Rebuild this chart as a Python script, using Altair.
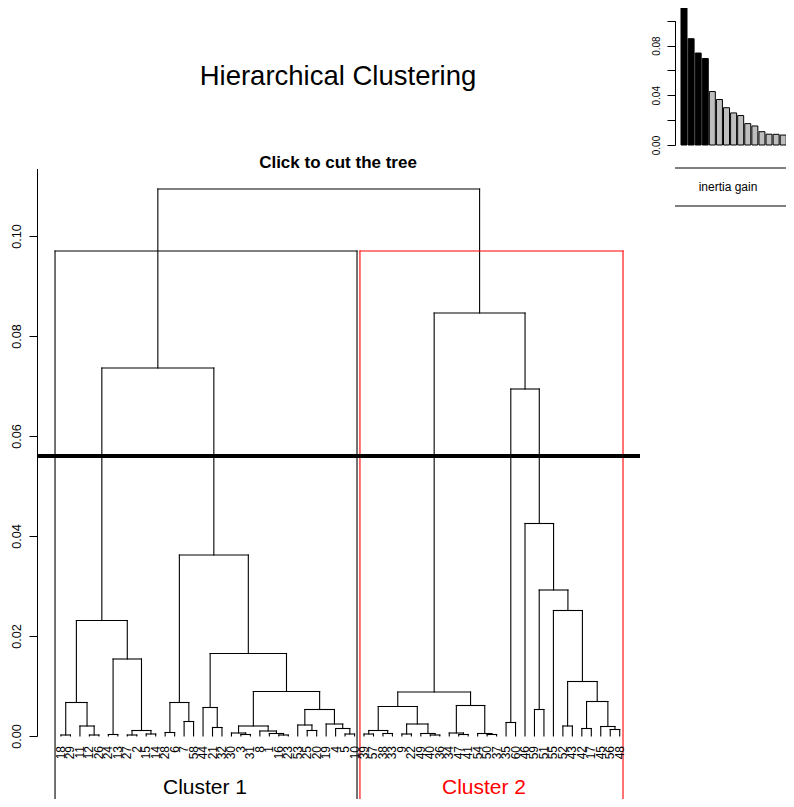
import altair as alt
import pandas as pd

# ---------------- data ----------------
leaf_labels = ["18", "29", "11", "12", "26", "24", "13", "27", "2", "15", "14",
               "28", "6", "7", "58", "44", "21", "32", "30", "3", "31", "8", "1",
               "16", "23", "53", "25", "20", "19", "4", "5", "10",
               "39", "57", "38", "33", "9", "22", "49", "40", "36", "34", "47",
               "41", "54", "50", "37", "35", "60", "46", "59", "51", "55", "52",
               "43", "42", "17", "45", "56", "48"]

# hclust-style merges: negative = leaf position (1..60), positive = earlier merge
merge_left = [-1, -4, -3, 1, -6, -8, -10, 6, 5, 4,
              -12, -14, 11, -17, -16, -20, -19, -24, -23, -22,
              17, -27, -26, -31, -30, -29, 23, 21, 15, 13, 10,
              -33, -35, 32, -37, -40, -39, 35, 34, -43,
              -42, -46, -45, 41, 39, -48, -51, -54, -56, -59,
              -58, 49, 48, -53, 47, -50, 46, 45, 31]
merge_right = [-2, -5, 2, 3, -7, -9, -11, 7, 8, 9,
               -13, -15, 12, -18, 14, -21, 16, -25, 18, 19,
               20, -28, 22, -32, 24, 25, 26, 27, 28, 29, 30,
               -34, -36, 33, -38, -41, 36, 37, 38, -44,
               40, -47, 42, 43, 44, -49, -52, -55, -57, -60,
               50, 51, 52, 53, 54, 55, 56, 57, 58]
merge_height = [0.0002, 0.0002, 0.0020, 0.0067, 0.0003, 0.0002, 0.0004, 0.0011, 0.0154, 0.0231,
                0.0007, 0.0029, 0.0067, 0.0017, 0.0057, 0.0003, 0.0006, 0.0002, 0.0005, 0.0010,
                0.0020, 0.0011, 0.0022, 0.0004, 0.0015, 0.0024, 0.0053, 0.0089, 0.0165, 0.0362, 0.0736,
                0.0004, 0.0005, 0.0011, 0.0004, 0.0002, 0.0005, 0.0024, 0.0059, 0.0003,
                0.0006, 0.0003, 0.0005, 0.0061, 0.0088, 0.0027, 0.0053, 0.0020, 0.0015, 0.0013,
                0.0019, 0.0069, 0.0109, 0.0251, 0.0292, 0.0425, 0.0694, 0.0846, 0.1094]

y_ticks = [0.0, 0.02, 0.04, 0.06, 0.08, 0.10]
cut_height = [0.056]

cluster_names = ["Cluster 1", "Cluster 2"]
cluster_left = [0.37, 32.57]
cluster_right = [32.26, 60.35]
cluster_top = 0.097
cluster_bottom = -0.016
cluster_colors = ["#000000", "#ff0000"]

gain_values = [0.1104, 0.0855, 0.0740, 0.0696, 0.0430, 0.0366, 0.0300, 0.0258,
               0.0237, 0.0172, 0.0153, 0.0107, 0.0087, 0.0086, 0.0080]
gain_selected = 4  # first bars drawn in black

FONT = "Liberation Sans"

# ---------------- dendrogram segments ----------------
pos, hgt = {}, {}


def node(ref):
    if ref < 0:
        return float(-ref), 0.0
    return pos[ref], hgt[ref]


segs = []
for k, (l, r, h) in enumerate(zip(merge_left, merge_right, merge_height), start=1):
    xl, hl = node(l)
    xr, hr = node(r)
    segs.append(dict(x=xl, x2=xl, y=hl, y2=h))
    segs.append(dict(x=xr, x2=xr, y=hr, y2=h))
    segs.append(dict(x=xl, x2=xr, y=h, y2=h))
    pos[k] = (xl + xr) / 2
    hgt[k] = h
seg_df = pd.DataFrame(segs)

rect_rows = []
for name, a, b, c in zip(cluster_names, cluster_left, cluster_right, cluster_colors):
    rect_rows.append(dict(x=a, x2=a, y=cluster_bottom, y2=cluster_top, col=c))
    rect_rows.append(dict(x=b, x2=b, y=cluster_bottom, y2=cluster_top, col=c))
    rect_rows.append(dict(x=a, x2=b, y=cluster_top, y2=cluster_top, col=c))
rect_df = pd.DataFrame(rect_rows)

leaf_df = pd.DataFrame({"pos": list(range(1, len(leaf_labels) + 1)), "label": leaf_labels})

gain_df = pd.DataFrame({
    "idx": list(range(1, len(gain_values) + 1)),
    "gain": gain_values,
    "fill": ["#000000" if i < gain_selected else "#bebebe" for i in range(len(gain_values))],
})

# ---------------- scales ----------------
X_MAIN = alt.Scale(domain=[1, 60], range=[24, 582.7], nice=False, zero=False)
Y_MAIN = alt.Scale(domain=[0, 0.1135], range=[728, 160.5], nice=False, zero=False)
Y_AXIS = alt.Axis(values=y_ticks, format=".2f", labelAngle=270, labelAlign="center",
                  labelBaseline="bottom", tickSize=8, labelPadding=6, labelFontSize=12.7,
                  labelFont=FONT, labelColor="black", tickColor="black", domainColor="black",
                  title=None, grid=False)

xm = lambda f: alt.X(f, type="quantitative", scale=X_MAIN, axis=None)
ym = lambda f: alt.Y(f, type="quantitative", scale=Y_MAIN, axis=Y_AXIS)

dendro = alt.Chart(seg_df).mark_rule(color="black", strokeWidth=1.1, strokeCap="square").encode(
    x=xm("x"), x2="x2", y=ym("y"), y2="y2")

rects = alt.Chart(rect_df).mark_rule(strokeWidth=1.1, strokeCap="square").encode(
    x=xm("x"), x2="x2", y=ym("y"), y2="y2", color=alt.Color("col:N", scale=None))

cut = alt.Chart(pd.DataFrame({"cut": cut_height})).mark_rule(color="black", strokeWidth=4).encode(
    y=ym("cut"), x=alt.value(0), x2=alt.value(603))

labels = alt.Chart(leaf_df).mark_text(angle=270, align="right", baseline="middle",
                                      font=FONT, fontSize=12, color="black").encode(
    x=xm("pos"), y=alt.value(738), text="label:N")

main = alt.layer(dendro, rects, cut, labels)

# ---------------- inset: inertia gain ----------------
X_IN = alt.Scale(domain=[1, 15], range=[642, 751.2], nice=False, zero=False)
Y_IN = alt.Scale(domain=[0, 0.10], range=[137, 12.7], nice=False, zero=True)
bars = alt.Chart(gain_df).mark_bar(size=6, stroke="black", strokeWidth=1).encode(
    x=alt.X("idx:Q", scale=X_IN, axis=None),
    y=alt.Y("gain:Q", scale=Y_IN,
            axis=alt.Axis(orient="left", offset=-638, values=y_ticks,
                          labelExpr="round(datum.value*100) % 4 == 0 ? format(datum.value, '.2f') : ''",
                          labelAngle=270, labelAlign="center", labelBaseline="bottom",
                          tickSize=8, labelPadding=6, labelFontSize=10, labelFont=FONT,
                          labelColor="black", tickColor="black", domainColor="black",
                          title=None, grid=False)),
    fill=alt.Fill("fill:N", scale=None))

one = pd.DataFrame({"t": ["inertia gain"]})
inset_line1 = alt.Chart(one).mark_rule(color="black", strokeWidth=1).encode(
    y=alt.value(160), x=alt.value(638), x2=alt.value(757))
inset_line2 = alt.Chart(one).mark_rule(color="black", strokeWidth=1).encode(
    y=alt.value(198), x=alt.value(638), x2=alt.value(757))
inset_text = alt.Chart(one).mark_text(font=FONT, fontSize=12, color="black").encode(
    x=alt.value(691), y=alt.value(179), text="t:N")

inset = alt.layer(bars, inset_line1, inset_line2, inset_text)

# ---------------- titles ----------------
title = alt.Chart(pd.DataFrame({"t": ["Hierarchical Clustering"]})).mark_text(
    font=FONT, fontSize=27.5, color="black").encode(x=alt.value(301), y=alt.value(69), text="t:N")
subtitle = alt.Chart(pd.DataFrame({"t": ["Click to cut the tree"]})).mark_text(
    font=FONT, fontSize=17, fontWeight="bold", color="black").encode(
    x=alt.value(301), y=alt.value(155), text="t:N")
c1 = alt.Chart(pd.DataFrame({"t": [cluster_names[0]]})).mark_text(
    font=FONT, fontSize=21, color=cluster_colors[0]).encode(x=alt.value(168), y=alt.value(780), text="t:N")
c2 = alt.Chart(pd.DataFrame({"t": [cluster_names[1]]})).mark_text(
    font=FONT, fontSize=21, color=cluster_colors[1]).encode(x=alt.value(447), y=alt.value(780), text="t:N")

chart = alt.layer(main, inset, title, subtitle, c1, c2).resolve_scale(
    x="independent", y="independent").properties(
    width=749, height=791,
    autosize=alt.AutoSizeParams(type="none"),
    padding={"left": 29, "top": 0, "right": 0, "bottom": 0},
).configure_view(stroke=None)

chart.save("out.html", embed_options={"renderer": "svg", "actions": False})
